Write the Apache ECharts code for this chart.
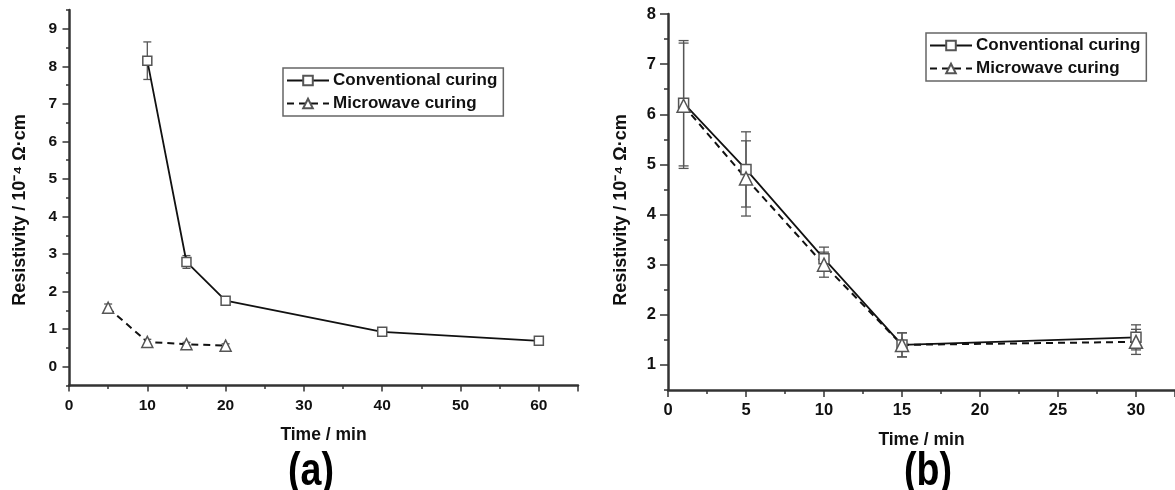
<!DOCTYPE html>
<html>
<head>
<meta charset="utf-8">
<script src="https://cdn.jsdelivr.net/npm/echarts@6/dist/echarts.min.js"></script>
<style>
html,body{margin:0;padding:0;background:#fff;}
#c{width:1175px;height:490px;}
</style>
</head>
<body>
<div id="c"></div>
<script>
// ---- Data (a) ----
const timeAConv = [10, 15, 20, 40, 60];
const resAConv  = [8.15, 2.79, 1.76, 0.93, 0.69];
const errAConv  = [0.5, 0.17, 0.05, 0.04, 0.04];
const timeAMicro = [5, 10, 15, 20];
const resAMicro  = [1.57, 0.66, 0.60, 0.56];
const errAMicro  = [0.1, 0.07, 0.05, 0.05];
// ---- Data (b) ----
const timeB = [1, 5, 10, 15, 30];
const resBConv  = [6.22, 4.90, 3.12, 1.40, 1.55];
const errBConv  = [1.25, 0.75, 0.23, 0.24, 0.25];
const resBMicro = [6.17, 4.72, 3.00, 1.40, 1.46];
const errBMicro = [1.25, 0.75, 0.25, 0.24, 0.25];
// ---- Tick labels ----
const yTicksA = [0, 1, 2, 3, 4, 5, 6, 7, 8, 9];
const yTicksB = [1, 2, 3, 4, 5, 6, 7, 8];
const legendNames = ['Conventional curing', 'Microwave curing'];
const yName = 'Resistivity / 10\u207B\u2074 \u03A9\u00B7cm';
const xName = 'Time / min';

const FONT = "'Liberation Sans', Arial, sans-serif";
const AX = '#333';

function pairs(xs, ys) { return xs.map((x, i) => [x, ys[i]]); }
function errData(xs, ys, es) { return xs.map((x, i) => [x, ys[i] - es[i], ys[i] + es[i]]); }

function errSeries(name, xs, ys, es, gi, cap) {
  return {
    type: 'custom', name: name, xAxisIndex: gi, yAxisIndex: gi * 2,
    data: errData(xs, ys, es), z: 1, silent: true,
    renderItem: function (params, api) {
      const lo = api.coord([api.value(0), api.value(1)]);
      const hi = api.coord([api.value(0), api.value(2)]);
      const st = { stroke: '#555', lineWidth: 1.3 };
      return { type: 'group', children: [
        { type: 'line', shape: { x1: lo[0], y1: lo[1], x2: hi[0], y2: hi[1] }, style: st },
        { type: 'line', shape: { x1: lo[0] - cap, y1: lo[1], x2: lo[0] + cap, y2: lo[1] }, style: st },
        { type: 'line', shape: { x1: hi[0] - cap, y1: hi[1], x2: hi[0] + cap, y2: hi[1] }, style: st }
      ]};
    }
  };
}

function lineSeries(name, data, gi, dashed, sym, size) {
  return {
    type: 'line', name: name, xAxisIndex: gi, yAxisIndex: gi * 2, data: data, z: 3,
    symbol: sym, symbolSize: size, showSymbol: true,
    lineStyle: { color: '#111', width: dashed ? 2 : 1.8, type: dashed ? [7, 5] : 'solid' },
    itemStyle: { color: '#fff', borderColor: '#555', borderWidth: 1.5 },
    color: '#111'
  };
}

function yAxes(gi, min, max, ticks, fs, majLen, minLen) {
  return [
    { type: 'value', gridIndex: gi, position: 'left', min: min, max: max, interval: 0.5,
      axisLine: { show: true, onZero: false, lineStyle: { color: AX, width: 2.5 } },
      axisTick: { show: true, customValues: ticks, length: majLen, lineStyle: { color: AX, width: 1.5 } },
      axisLabel: { customValues: ticks, color: '#111', fontSize: fs, fontWeight: 'bold', fontFamily: FONT, margin: 12 },
      splitLine: { show: false } },
    { type: 'value', gridIndex: gi, position: 'left', offset: 0, min: min, max: max, interval: 0.5,
      axisLine: { show: false, onZero: false },
      axisTick: { show: true, length: minLen, lineStyle: { color: AX, width: 1.5 } },
      axisLabel: { show: false }, splitLine: { show: false } }
  ];
}

function xAxis(gi, max, interval, fs, majLen, minLen) {
  return { type: 'value', gridIndex: gi, position: 'bottom', min: 0, max: max, interval: interval,
    name: xName, nameLocation: 'middle', nameGap: 41,
    nameTextStyle: { color: '#111', fontSize: 17.5, fontWeight: 'bold', fontFamily: FONT },
    axisLine: { show: true, onZero: false, lineStyle: { color: AX, width: 2.5 } },
    axisTick: { show: true, length: majLen, lineStyle: { color: AX, width: 1.5 } },
    minorTick: { show: true, splitNumber: 2, length: minLen, lineStyle: { color: AX, width: 1.5 } },
    axisLabel: { color: '#111', fontSize: fs, fontWeight: 'bold', fontFamily: FONT, margin: 12,
      showMaxLabel: false },
    splitLine: { show: false } };
}

function legend(left, top) {
  return { data: legendNames, left: left, top: top, orient: 'vertical',
    backgroundColor: '#fff', borderColor: '#666', borderWidth: 1.5, borderRadius: 0,
    padding: [4, 6, 4, 3], itemWidth: 42, itemHeight: 12, itemGap: 6,
    textStyle: { color: '#111', fontSize: 17, fontWeight: 'bold', fontFamily: FONT, padding: [0, 0, 0, -1] },
    selectedMode: false };
}

const PANEL_FONT = "bold 47px 'Liberation Sans', Arial, sans-serif";

const chart = echarts.init(document.getElementById('c'), null, { renderer: 'canvas' });
chart.setOption({
  backgroundColor: '#fff',
  animation: false,
  grid: [
    { left: 69, top: 10, width: 509, height: 375.5 },
    { left: 668, top: 14, width: 507, height: 376 }
  ],
  xAxis: [ xAxis(0, 65, 10, 15.5, 6, 3.5), xAxis(1, 32.5, 5, 16.5, 7, 4) ],
  yAxis: [].concat(
    yAxes(0, -0.5, 9.5, yTicksA, 15.5, 6.5, 3),
    yAxes(1, 0.5, 8, yTicksB, 16.5, 8, 4)
  ),
  legend: [ legend(283, 68), legend(926, 33) ],
  series: [
    errSeries('errAConv', timeAConv, resAConv, errAConv, 0, 4),
    errSeries('errAMicro', timeAMicro, resAMicro, errAMicro, 0, 4),
    lineSeries(legendNames[0], pairs(timeAConv, resAConv), 0, false, 'rect', 9),
    lineSeries(legendNames[1], pairs(timeAMicro, resAMicro), 0, true, 'triangle', 11),
    errSeries('errBConv', timeB, resBConv, errBConv, 1, 5),
    errSeries('errBMicro', timeB, resBMicro, errBMicro, 1, 5),
    lineSeries(legendNames[0], pairs(timeB, resBConv), 1, false, 'rect', 10),
    lineSeries(legendNames[1], pairs(timeB, resBMicro), 1, true, 'triangle', 13)
  ],
  graphic: [
    { type: 'text', x: 20, y: 210, rotation: Math.PI / 2,
      style: { text: yName, fill: '#111', font: "bold 18px " + FONT, align: 'center', verticalAlign: 'middle' } },
    { type: 'text', x: 621, y: 210, rotation: Math.PI / 2,
      style: { text: yName, fill: '#111', font: "bold 18px " + FONT, align: 'center', verticalAlign: 'middle' } },
    { type: 'text', x: 311, y: 472, scaleX: 0.8,
      style: { text: '(a)', fill: '#000', font: PANEL_FONT, align: 'center', verticalAlign: 'middle' } },
    { type: 'text', x: 928, y: 472, scaleX: 0.8,
      style: { text: '(b)', fill: '#000', font: PANEL_FONT, align: 'center', verticalAlign: 'middle' } }
  ]
});
</script>
</body>
</html>
